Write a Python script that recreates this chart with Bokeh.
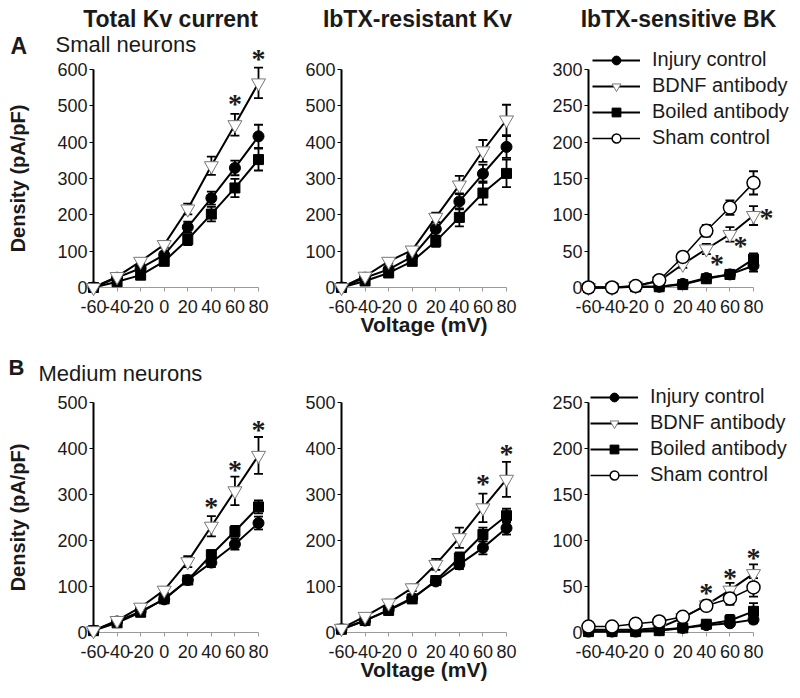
from bokeh.plotting import figure
from bokeh.layouts import row, column
from bokeh.models import (Range1d, FixedTicker, Whisker, TeeHead, ColumnDataSource,
                          Label, LabelSet, Legend, LegendItem)
from bokeh.embed import file_html
from bokeh.resources import INLINE

# ---------------- data ----------------
VOLT = [-60, -40, -20, 0, 20, 40, 60, 80]
NAMES = ["Injury control", "BDNF antibody", "Boiled antibody", "Sham control"]
COL_TITLES = ["Total Kv current", "IbTX-resistant Kv", "IbTX-sensitive BK"]

# A: small neurons
inj_a1 = [0, 27, 53, 90, 166, 246, 329, 416]
inj_a1_e = [0, 3, 5, 8, 15, 18, 20, 32]
bdnf_a1 = [0, 30, 72, 118, 216, 335, 448, 563]
bdnf_a1_e = [0, 4, 6, 8, 15, 25, 30, 42]
boil_a1 = [0, 16, 34, 72, 132, 202, 274, 352]
boil_a1_e = [0, 3, 5, 8, 15, 20, 25, 30]

inj_a2 = [0, 27, 50, 85, 161, 237, 313, 387]
inj_a2_e = [0, 3, 5, 8, 18, 22, 25, 30]
bdnf_a2 = [0, 31, 72, 103, 193, 282, 376, 461]
bdnf_a2_e = [0, 4, 6, 8, 13, 25, 30, 42]
boil_a2 = [0, 18, 40, 72, 127, 193, 260, 314]
boil_a2_e = [0, 3, 5, 8, 15, 25, 32, 38]

inj_a3 = [0, 0, 1, 1, 5, 13, 18, 30]
inj_a3_e = [0, 0, 0, 1, 2, 3, 4, 8]
bdnf_a3 = [0, 0, 2, 9, 32, 53, 73, 99]
bdnf_a3_e = [0, 0, 1, 2, 5, 7, 10, 13]
boil_a3 = [0, 0, 1, 1, 4, 12, 18, 39]
boil_a3_e = [0, 0, 0, 1, 2, 3, 4, 8]
sham_a3 = [0, 0, 2, 10, 42, 78, 110, 144]
sham_a3_e = [0, 0, 1, 2, 5, 8, 10, 16]

# B: medium neurons
inj_b1 = [4, 24, 46, 72, 114, 152, 192, 238]
inj_b1_e = [2, 3, 4, 5, 8, 10, 12, 14]
bdnf_b1 = [4, 26, 55, 92, 154, 231, 308, 385]
bdnf_b1_e = [2, 3, 5, 6, 12, 22, 31, 40]
boil_b1 = [4, 21, 44, 73, 114, 169, 220, 273]
boil_b1_e = [2, 3, 4, 5, 8, 10, 12, 14]

inj_b2 = [7, 26, 49, 75, 111, 148, 184, 227]
inj_b2_e = [2, 3, 4, 6, 8, 10, 14, 14]
bdnf_b2 = [9, 35, 64, 97, 148, 206, 271, 333]
bdnf_b2_e = [2, 3, 5, 7, 12, 22, 31, 38]
boil_b2 = [7, 26, 48, 73, 113, 162, 213, 254]
boil_b2_e = [2, 3, 4, 6, 8, 12, 15, 15]

inj_b3 = [1, 1, 1, 3, 5, 8, 10, 14]
inj_b3_e = [0, 0, 0, 1, 1, 2, 3, 4]
bdnf_b3 = [3, 3, 3, 5, 16, 30, 46, 64]
bdnf_b3_e = [1, 1, 1, 1, 3, 5, 8, 10]
boil_b3 = [1, 1, 1, 2, 5, 9, 13, 23]
boil_b3_e = [0, 0, 0, 1, 1, 2, 6, 9]
sham_b3 = [6.5, 6.5, 9.4, 12, 17, 29, 37, 49]
sham_b3_e = [1, 1, 1, 2, 3, 4, 7, 10]

# significance asterisks
star_a1_x = [60, 80];      star_a1_y = [523, 648]
star_a3_x = [49, 69, 91];  star_a3_y = [41, 66, 105]
star_b1_x = [40, 60, 80];  star_b1_y = [286, 367, 455]
star_b2_x = [60, 80];      star_b2_y = [336, 402]
star_b3_x = [40, 60, 80];  star_b3_y = [50, 66, 88]

# y axes
YT_A12 = [0, 100, 200, 300, 400, 500, 600]
YT_A3 = [0, 50, 100, 150, 200, 250, 300]
YT_B12 = [0, 100, 200, 300, 400, 500]
YT_B3 = [0, 50, 100, 150, 200, 250]

# ---------------- styling / layout ----------------
FONT = "Liberation Sans"
TXT = "#1a1a1a"
XSPAN_PX = 165          # pixels between -60 and 80
COLW = [285, 248, 262]  # tile widths
ROWH = [353, 342]       # tile heights
X0 = [93, 56, 55]       # tile x of V=-60
Y0 = [287, 279]         # tile y of density 0
YSPAN = [218, 230]      # pixels between 0 and top tick

STYLE = {
    "Injury control": dict(marker="circle", size=11, fill_color="black", line_color="black", lw=2, mlw=1),
    "BDNF antibody": dict(marker="inverted_triangle", size=14, fill_color="white", line_color="#777777", lw=2, mlw=1),
    "Boiled antibody": dict(marker="square", size=10, fill_color="black", line_color="black", lw=2, mlw=1),
    "Sham control": dict(marker="circle", size=13, fill_color="white", line_color="black", lw=1.5, mlw=1.5),
}


def make_panel(ci, ri, yticks, series, stars, ylabel=None, xlabel=None,
               legend_loc=None, texts=()):
    tw, th = COLW[ci], ROWH[ri]
    ymax = yticks[-1]
    upx = (VOLT[-1] - VOLT[0]) / XSPAN_PX
    upy = ymax / YSPAN[ri]
    xr = Range1d(VOLT[0] - X0[ci] * upx, VOLT[0] + (tw - X0[ci]) * upx)
    yr = Range1d(-(th - Y0[ri]) * upy, Y0[ri] * upy)
    p = figure(width=tw, height=th, x_range=xr, y_range=yr, min_border=0,
               toolbar_location=None, output_backend="svg",
               background_fill_color="white", border_fill_color="white")
    p.outline_line_color = None
    p.grid.visible = False

    # axes crossing at (-60, 0)
    xa, ya = p.xaxis[0], p.yaxis[0]
    xa.fixed_location = 0
    xa.bounds = (VOLT[0], VOLT[-1])
    xa.ticker = FixedTicker(ticks=VOLT)
    xa.major_label_overrides = {v: str(v) for v in VOLT}
    xa.axis_line_color = "#9a9a9a"
    xa.axis_line_width = 1
    xa.major_tick_in = 0
    xa.major_tick_out = 4
    xa.major_tick_line_color = "#9a9a9a"
    xa.minor_tick_line_color = None
    xa.major_label_standoff = 8
    xa.major_label_text_font = FONT
    xa.major_label_text_font_size = "18px"
    xa.major_label_text_color = TXT
    xa.level = "underlay"
    ya.fixed_location = VOLT[0]
    ya.bounds = (0, ymax)
    ya.ticker = FixedTicker(ticks=yticks)
    ya.axis_line_color = "black"
    ya.axis_line_width = 2
    ya.major_tick_in = 0
    ya.major_tick_out = 4
    ya.major_tick_line_color = "black"
    ya.minor_tick_line_color = None
    ya.major_label_standoff = 2
    ya.major_label_text_font = FONT
    ya.major_label_text_font_size = "18px"
    ya.major_label_text_color = TXT
    ya.level = "underlay"
    if ylabel:
        ya.axis_label = ylabel
        ya.axis_label_standoff = 25
        ya.axis_label_text_font = FONT
        ya.axis_label_text_font_size = "20px"
        ya.axis_label_text_font_style = "bold"
        ya.axis_label_text_color = TXT
    if xlabel:
        xa.axis_label = xlabel
        xa.axis_label_standoff = -3
        xa.axis_label_text_font = FONT
        xa.axis_label_text_font_size = "21px"
        xa.axis_label_text_font_style = "bold"
        xa.axis_label_text_color = TXT

    items = []
    for name, ys, es in series:
        st = STYLE[name]
        idx = [i for i, e in enumerate(es) if e > 0]
        wsrc = ColumnDataSource(dict(base=[VOLT[i] for i in idx],
                                     upper=[ys[i] + es[i] for i in idx],
                                     lower=[ys[i] - es[i] for i in idx]))
        w = Whisker(base="base", upper="upper", lower="lower", source=wsrc,
                    line_color="black", line_width=1.8, level="underlay",
                    upper_head=TeeHead(size=9, line_width=1.8, line_color="black"),
                    lower_head=TeeHead(size=9, line_width=1.8, line_color="black"))
        p.add_layout(w)
        lr = p.line(VOLT, ys, line_color="black", line_width=st["lw"])
        sr = p.scatter(VOLT, ys, marker=st["marker"], size=st["size"],
                       fill_color=st["fill_color"], line_color=st["line_color"],
                       line_width=st["mlw"])
        items.append(LegendItem(label=name, renderers=[lr, sr]))

    if stars:
        sx, sy = stars
        ssrc = ColumnDataSource(dict(x=sx, y=sy, t=["*"] * len(sx)))
        p.add_layout(LabelSet(x="x", y="y", text="t", source=ssrc, text_align="center",
                              text_baseline="middle", text_font=FONT,
                              text_font_size="28px", text_font_style="bold",
                              text_color=TXT, y_offset=-6))

    if legend_loc is not None:
        lg = Legend(items=items, location=legend_loc, border_line_color=None,
                    background_fill_alpha=0, label_text_font=FONT,
                    label_text_font_size="20px", label_text_color=TXT,
                    glyph_width=48, glyph_height=22, label_height=22,
                    spacing=3, padding=0, margin=0, label_standoff=12)
        p.add_layout(lg)

    # texts positioned in tile pixels (px from left, py from top)
    for (txt, px, py, size, style, align) in texts:
        p.add_layout(Label(x=xr.start + px * upx, y=yr.end - py * upy, text=txt,
                           text_align=align, text_baseline="middle", text_font=FONT,
                           text_font_size=size, text_font_style=style, text_color=TXT))
    return p


def ttl(t, px):
    return (t, px, 18, "23px", "bold", "center")


p1 = make_panel(0, 0, YT_A12,
                [("Injury control", inj_a1, inj_a1_e), ("Boiled antibody", boil_a1, boil_a1_e),
                 ("BDNF antibody", bdnf_a1, bdnf_a1_e)],
                (star_a1_x, star_a1_y), ylabel="Density (pA/pF)",
                texts=[ttl(COL_TITLES[0], 170), ("A", 10, 45, "23px", "bold", "left"),
                       ("Small neurons", 55, 44, "22px", "normal", "left")])
p2 = make_panel(1, 0, YT_A12,
                [("Injury control", inj_a2, inj_a2_e), ("Boiled antibody", boil_a2, boil_a2_e),
                 ("BDNF antibody", bdnf_a2, bdnf_a2_e)],
                None, xlabel="Voltage (mV)",
                texts=[ttl(COL_TITLES[1], 132)])
p3 = make_panel(2, 0, YT_A3,
                [("Injury control", inj_a3, inj_a3_e), ("BDNF antibody", bdnf_a3, bdnf_a3_e),
                 ("Boiled antibody", boil_a3, boil_a3_e), ("Sham control", sham_a3, sham_a3_e)],
                (star_a3_x, star_a3_y), legend_loc=(59, 204),
                texts=[ttl(COL_TITLES[2], 145)])

p4 = make_panel(0, 1, YT_B12,
                [("Injury control", inj_b1, inj_b1_e), ("Boiled antibody", boil_b1, boil_b1_e),
                 ("BDNF antibody", bdnf_b1, bdnf_b1_e)],
                (star_b1_x, star_b1_y), ylabel="Density (pA/pF)",
                texts=[("B", 8, 14, "22px", "bold", "left"),
                       ("Medium neurons", 38, 20, "22px", "normal", "left")])
p5 = make_panel(1, 1, YT_B12,
                [("Injury control", inj_b2, inj_b2_e), ("Boiled antibody", boil_b2, boil_b2_e),
                 ("BDNF antibody", bdnf_b2, bdnf_b2_e)],
                (star_b2_x, star_b2_y), xlabel="Voltage (mV)")
p6 = make_panel(2, 1, YT_B3,
                [("Injury control", inj_b3, inj_b3_e), ("BDNF antibody", bdnf_b3, bdnf_b3_e),
                 ("Boiled antibody", boil_b3, boil_b3_e), ("Sham control", sham_b3, sham_b3_e)],
                (star_b3_x, star_b3_y), legend_loc=(57, 209))

layout = column(row(p1, p2, p3), row(p4, p5, p6))
open("out.html", "w").write(file_html(layout, INLINE))
